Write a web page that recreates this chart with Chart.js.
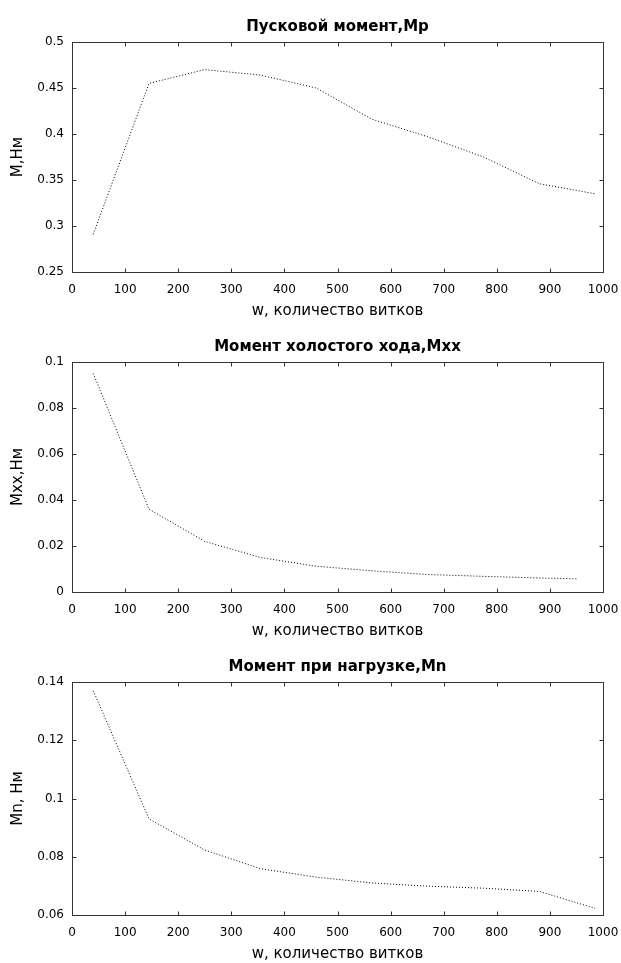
<!DOCTYPE html>
<html>
<head>
<meta charset="utf-8">
<script src="https://cdn.jsdelivr.net/npm/chart.js@4.4.1/dist/chart.umd.min.js"></script>
<style>
  body { margin: 0; background: #fff; }
  canvas { display: block; }
</style>
</head>
<body>
<canvas id="c1" width="621" height="320"></canvas>
<canvas id="c2" width="621" height="320"></canvas>
<canvas id="c3" width="621" height="323"></canvas>
<script>
// число витков
const wTurns = [40, 145, 250, 355, 460, 565, 670, 775, 880, 985];
const wTurnsXx = [40, 145, 250, 355, 460, 565, 670, 775, 880, 950];

// пусковой момент
const mStart = [0.291, 0.455, 0.470, 0.464, 0.450, 0.416, 0.397, 0.375, 0.346, 0.335];
// момент холостого хода
const mIdle = [0.095, 0.036, 0.022, 0.015, 0.0112, 0.0092, 0.0076, 0.0068, 0.0061, 0.0057];
// момент при нагрузке
const mLoad = [0.137, 0.093, 0.0823, 0.0759, 0.073, 0.071, 0.0699, 0.0692, 0.0681, 0.0623];

const xTicks = [0, 100, 200, 300, 400, 500, 600, 700, 800, 900, 1000];
const yTicksStart = [0.25, 0.3, 0.35, 0.4, 0.45, 0.5];
const yTicksIdle = [0, 0.02, 0.04, 0.06, 0.08, 0.1];
const yTicksLoad = [0.06, 0.08, 0.1, 0.12, 0.14];

const FONT = "'DejaVu Sans', 'Liberation Sans', Arial, sans-serif";

// ------------------ рамка и внутренние риски ------------------
const framePlugin = {
    id: "frame",
    afterDraw(chart) {
        const { ctx, chartArea: a, scales: { x, y } } = chart;
        const L = Math.round(a.left) + 0.5, R = Math.round(a.right) + 0.5;
        const T = Math.round(a.top) + 0.5, B = Math.round(a.bottom) + 0.5;
        const len = 4;
        ctx.save();
        ctx.strokeStyle = "#333";
        ctx.lineWidth = 1;
        ctx.beginPath();
        ctx.rect(L, T, R - L, B - T);
        x.ticks.forEach(t => {
            const px = Math.round(x.getPixelForValue(t.value)) + 0.5;
            ctx.moveTo(px, B); ctx.lineTo(px, B - len);
            ctx.moveTo(px, T); ctx.lineTo(px, T + len);
        });
        y.ticks.forEach(t => {
            const py = Math.round(y.getPixelForValue(t.value)) + 0.5;
            ctx.moveTo(L, py); ctx.lineTo(L + len, py);
            ctx.moveTo(R, py); ctx.lineTo(R - len, py);
        });
        ctx.stroke();
        ctx.restore();
    }
};

function makeChart(id, title, yLabel, xs, ys, yTicks) {
    const ctx = document.getElementById(id).getContext("2d");
    new Chart(ctx, {
        type: "line",
        data: {
            datasets: [{
                data: xs.map((v, i) => ({ x: v, y: ys[i] })),
                borderColor: "#000",
                borderWidth: 1,
                borderDash: [1, 2],
                pointRadius: 0,
                tension: 0,
                fill: false
            }]
        },
        options: {
            responsive: false,
            animation: false,
            layout: { padding: { top: 0, right: 18, left: 0, bottom: 0 } },
            plugins: {
                legend: { display: false },
                tooltip: { enabled: false },
                title: {
                    display: true,
                    fullSize: false,
                    text: title,
                    color: "#000",
                    font: { family: FONT, size: 15, weight: "bold" },
                    padding: { top: 18, bottom: 6 }
                }
            },
            scales: {
                x: {
                    type: "linear",
                    min: xTicks[0],
                    max: xTicks[xTicks.length - 1],
                    afterBuildTicks: s => { s.ticks = xTicks.map(v => ({ value: v })); },
                    afterFit: s => { s.height = 48; s.paddingLeft = 0; s.paddingRight = 0; },
                    grid: { display: false, drawTicks: false },
                    border: { display: false },
                    ticks: {
                        color: "#000",
                        font: { family: FONT, size: 12 },
                        padding: 11,
                        maxRotation: 0,
                        callback: v => String(v)
                    },
                    title: {
                        display: true,
                        text: "w, количество витков",
                        color: "#000",
                        font: { family: FONT, size: 15 },
                        padding: { top: 0, bottom: 0 }
                    }
                },
                y: {
                    type: "linear",
                    min: yTicks[0],
                    max: yTicks[yTicks.length - 1],
                    afterBuildTicks: s => { s.ticks = yTicks.map(v => ({ value: v })); },
                    afterFit: s => { s.width = 72; s.paddingTop = 0; s.paddingBottom = 0; },
                    grid: { display: false, drawTicks: false },
                    border: { display: false },
                    ticks: {
                        color: "#000",
                        font: { family: FONT, size: 12 },
                        padding: 8,
                        callback: v => String(+v.toFixed(4))
                    },
                    title: {
                        display: true,
                        text: yLabel,
                        color: "#000",
                        font: { family: FONT, size: 15 },
                        padding: { top: 9, bottom: 0 }
                    }
                }
            }
        },
        plugins: [framePlugin]
    });
}

makeChart("c1", "Пусковой момент,Мр", "М,Нм", wTurns, mStart, yTicksStart);
makeChart("c2", "Момент холостого хода,Мхх", "Мхх,Нм", wTurnsXx, mIdle, yTicksIdle);
makeChart("c3", "Момент при нагрузке,Мn", "Мn, Нм", wTurns, mLoad, yTicksLoad);
</script>
</body>
</html>
